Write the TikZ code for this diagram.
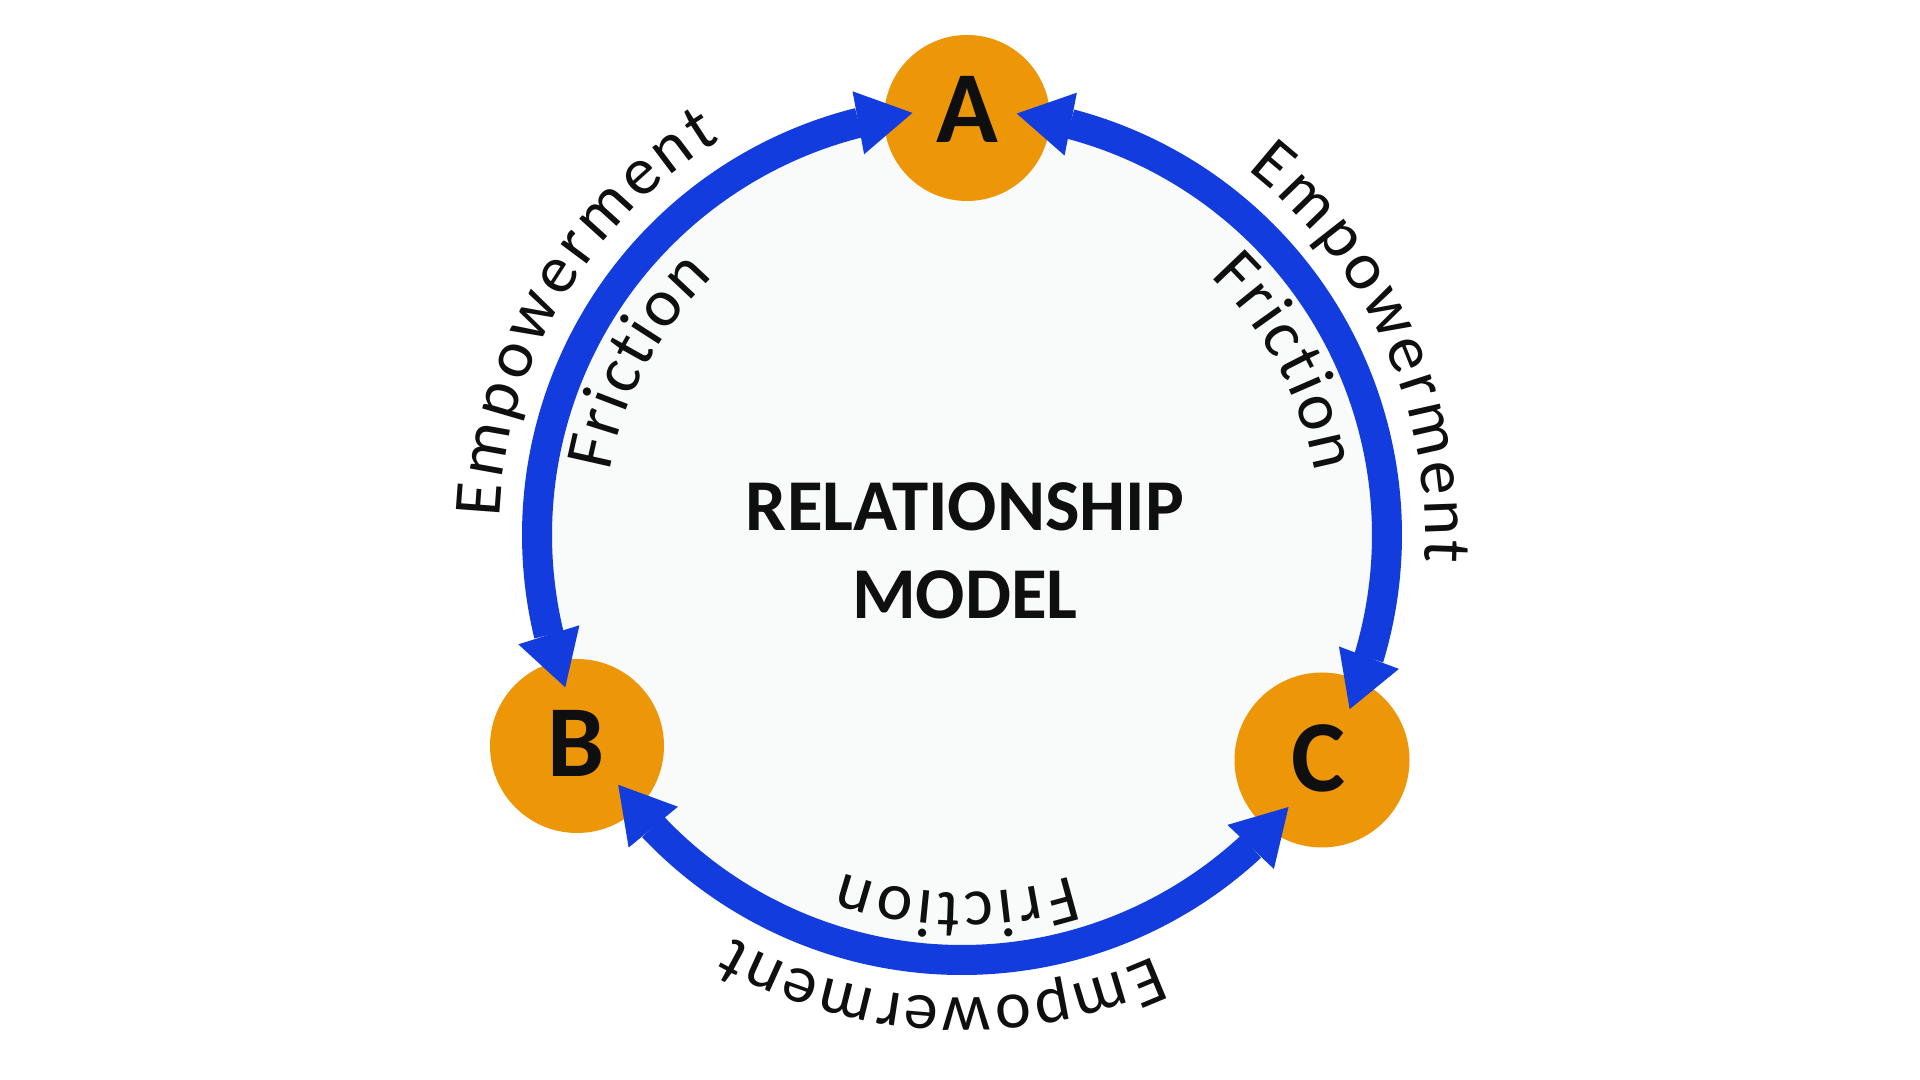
\documentclass[tikz,border=0pt]{standalone}
\usepackage{fontspec}
\setmainfont{Carlito}
\usetikzlibrary{arrows.meta,bending,decorations.text,calc}
\definecolor{ringblue}{RGB}{18,60,222}
\definecolor{nodeorange}{RGB}{236,150,8}
\definecolor{innergray}{RGB}{249,250,250}
\definecolor{inkblack}{RGB}{15,15,15}
\begin{document}
\begin{tikzpicture}[x=0.5pt,y=0.5pt,
  ringarrow/.style={draw=ringblue, line width=15pt, line cap=butt,
     {Triangle[length=27.5pt,width=32pt,line width=0pt]}-{Triangle[length=27.5pt,width=32pt,line width=0pt]}},
  person/.style={circle, fill=nodeorange, inner sep=0pt, minimum size=#1},
  letter/.style={font=\bfseries\fontsize{51}{51}\selectfont, text=inkblack, inner sep=0pt},
  ringtext/.style={decorate, decoration={text along path, text color=inkblack,
     text={|\fontsize{34}{34}\selectfont|#1}, text align={fit to path}}},
]
\useasboundingbox (0,0) rectangle (1920,1080);
\fill[white] (0,0) rectangle (1920,1080);
\coordinate (O) at (962,545);
\fill[innergray] (O) circle[radius=425];

% person circles
\node[person=83pt] (A) at (967,962) {};
\node[person=87pt] (B) at (577,334) {};
\node[person=87.5pt] (C) at (1322,320) {};
\node[letter] (la) at (967,970.5) {A};
\node[letter] (lb) at (576,337) {B};
\node[letter] (lc) at (1318,321.5) {C};

% arrow end coordinates
\coordinate (ab1) at ($(O)+(96.7:425)$);
\coordinate (ab2) at ($(O)+(201:425)$);
\coordinate (ac1) at ($(O)+(82.6:425)$);
\coordinate (ac2) at ($(O)+(-24.2:425)$);
\coordinate (bc1) at ($(O)+(216:425)$);
\coordinate (bc2) at ($(O)+(320.2:425)$);

\draw[ringarrow] (ab1) arc[start angle=96.7, end angle=201, radius=425];
\draw[ringarrow] (ac1) arc[start angle=82.6, end angle=-24.2, radius=425];
\draw[ringarrow] (bc1) arc[start angle=216, end angle=320.2, radius=425];

% ring texts
\path[ringtext=Empowerment] ($(O)+(177.8:463)$) arc[start angle=177.8, end angle=121.5, radius=463];
\path[ringtext=Friction] ($(O)+(169.8:358)$) arc[start angle=169.8, end angle=133.9, radius=358];
\path[ringtext=Empowerment] ($(O)+(52:463)$) arc[start angle=52, end angle=-3.4, radius=463];
\path[ringtext=Friction] ($(O)+(46.2:358)$) arc[start angle=46.2, end angle=10, radius=358];
\path[ringtext=Empowerment] ($(O)+(294.6:463)$) arc[start angle=294.6, end angle=240.3, radius=463];
\path[ringtext=Friction] ($(O)+(287.8:358)$) arc[start angle=287.8, end angle=250.5, radius=358];

% title
\node[font=\bfseries\fontsize{36.5}{44}\selectfont, align=center, text=inkblack, inner sep=0pt]
  (title) at (965,529.5) {RELATIONSHIP\\MODEL};
\end{tikzpicture}
\end{document}
